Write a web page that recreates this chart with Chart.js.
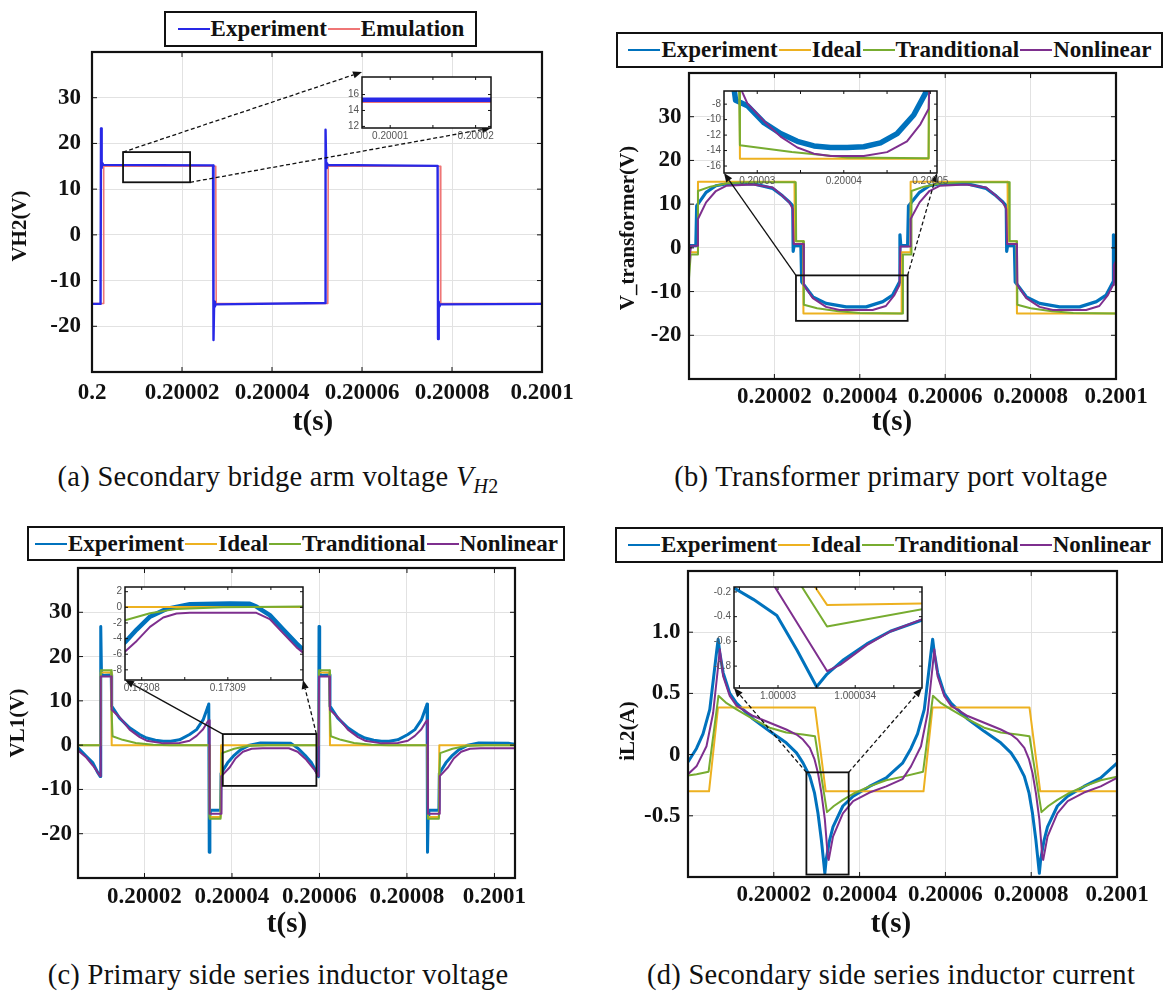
<!DOCTYPE html>
<html>
<head>
<meta charset="utf-8">
<script src="https://cdn.jsdelivr.net/npm/chart.js@4.4.1/dist/chart.umd.min.js"></script>
<style>
html,body{margin:0;padding:0;background:#fff;}
#page{position:relative;width:1164px;height:991px;overflow:hidden;background:#fff;}
canvas{position:absolute;display:block;}
.lg{position:absolute;box-sizing:border-box;border:2.5px solid #111;background:#fff;display:flex;align-items:center;justify-content:center;font-family:"Liberation Serif",serif;font-weight:bold;font-size:23px;color:#111;white-space:nowrap;}
.lg .sw{display:inline-block;width:32px;height:0;border-top-style:solid;border-top-width:2.5px;margin:0 1px 0 1px;}
.cap{position:absolute;font-family:"Liberation Serif",serif;font-size:28.5px;letter-spacing:0.3px;color:#111;white-space:nowrap;transform:translate(-50%,-50%);}
.cap sub{font-size:0.7em;line-height:0;}
</style>
</head>
<body>
<div id="page"></div>
<script>
// ---------------- colours / labels ----------------
const C_EXP = '#0072BD', C_IDE = '#EDB120', C_TRA = '#77AC30', C_NON = '#7E2F8E';
const C_A_EXP = '#2828e6', C_A_EMU = '#ef7676';
const LBL_A = ['Experiment', 'Emulation'];
const LBL_4 = ['Experiment', 'Ideal', 'Tranditional', 'Nonlinear'];

// ---------------- tick labels ----------------
const X_TICKS_AB = [0, 20, 40, 60, 80, 100];
const X_LABELS_A = ['0.2', '0.20002', '0.20004', '0.20006', '0.20008', '0.2001'];
const X_LABELS_B = ['', '0.20002', '0.20004', '0.20006', '0.20008', '0.2001'];
const X_TICKS_C = [20, 40, 60, 80, 100];
const X_LABELS_C = ['0.20002', '0.20004', '0.20006', '0.20008', '0.2001'];
const Y_TICKS_V = [-20, -10, 0, 10, 20, 30];
const Y_LABELS_V = ['-20', '-10', '0', '10', '20', '30'];
const Y_TICKS_I = [-0.5, 0, 0.5, 1.0];
const Y_LABELS_I = ['-0.5', '0', '0.5', '1.0'];

// inset ticks
const AI_X_TICKS = [10, 15, 20], AI_X_LABELS = ['0.20001', '', '0.20002'];
const AI_Y_TICKS = [12, 14, 16], AI_Y_LABELS = ['12', '14', '16'];
const BI_X_TICKS = [30, 35, 40, 45, 50], BI_X_LABELS = ['0.20003', '', '0.20004', '', '0.20005'];
const BI_Y_TICKS = [-16, -14, -12, -10, -8], BI_Y_LABELS = ['-16', '-14', '-12', '-10', '-8'];
const CI_X_TICKS = [80, 85, 90, 95], CI_X_LABELS = ['0.17308', '', '0.17309', ''];
const CI_Y_TICKS = [-8, -6, -4, -2, 0, 2], CI_Y_LABELS = ['-8', '-6', '-4', '-2', '0', '2'];
const DI_X_TICKS = [31, 32, 33, 34, 35], DI_X_LABELS = ['', '1.00003', '', '1.000034', ''];
const DI_Y_TICKS = [-0.8, -0.6, -0.4, -0.2], DI_Y_LABELS = ['-0.8', '-0.6', '-0.4', '-0.2'];

// ---------------- data (time in microseconds after 0.2 s) ----------------
// (a) secondary bridge arm voltage
const A_T_EXP = [0,1.9,2.0,2.15,2.3,2.5,26.9,27.0,27.15,27.3,27.5,51.8,51.9,52.05,52.2,52.4,76.8,76.9,77.05,77.2,77.4,100];
const A_V_EXP = [-15.1,-15.1,23.3,14.6,15.7,15.3,15.2,-23.0,-14.6,-15.7,-15.2,-14.9,23.0,14.6,15.7,15.3,15.1,-22.8,-14.6,-15.7,-15.2,-15.1];
const A_T_EMU = [0,2.5,2.6,27.5,27.6,52.4,52.5,77.4,77.5,100];
const A_V_EMU = [-15,-15,15,15,-15,-15,15,15,-15,-15];
const AI_T_EXP = [5, 23.5], AI_V_EXP = [15.35, 15.35];
const AI_T_EMU = [5, 23.5], AI_V_EMU = [15.05, 15.05];

// (b) transformer primary port voltage
const B_T_EXP = [0,1.6,1.8,4.0,6.3,8.6,15.0,19.6,21.9,23.5,24.3,24.4,24.6,26.2,26.4,29.0,32.1,36.8,41.5,45.4,47.7,49.3,49.4,49.6,51.2,51.4,54.0,56.3,58.6,65.0,69.6,71.9,73.5,74.3,74.4,74.6,76.2,76.4,79.0,82.1,86.8,91.5,95.4,97.7,99.3,99.4,99.6,100];
const B_V_EXP = [0.5,0.5,9.6,12.7,14.2,14.6,14.7,13.6,11.9,10.5,9.6,-0.8,0.5,0.5,-7.8,-11.2,-12.7,-13.5,-13.5,-12.3,-10.8,-7.8,3.0,0.5,0.5,9.6,12.7,14.2,14.6,14.7,13.6,11.9,10.5,9.6,-0.8,0.5,0.5,-7.8,-11.2,-12.7,-13.5,-13.5,-12.3,-10.8,-7.8,3.0,0.5,0.5];
const B_T_IDE = [0,2.0,2.1,24.7,24.8,26.7,26.8,49.7,49.8,51.8,51.9,74.6,74.7,76.7,76.8,100];
const B_V_IDE = [-1,-1,15.1,15.1,1.5,1.5,-15,-15,-1,-1,15.1,15.1,1.5,1.5,-15,-15];
const B_T_TRA = [0,0.4,2.0,2.1,5,9,14,25.0,25.1,26.8,26.9,30,35,40,50.0,50.1,52.0,52.1,55,59,64,75.0,75.1,76.8,76.9,80,85,90,100];
const B_V_TRA = [-7,-1.5,-1.5,13.0,14.0,14.8,15.0,15.0,1.5,1.5,-13.0,-13.8,-14.5,-14.9,-15.0,-1.5,-1.5,13.0,14.0,14.8,15.0,15.0,1.5,1.5,-13.0,-13.8,-14.5,-14.9,-15.0];
const B_T_NON = [0,0.3,0.5,2.0,2.1,4.0,6.3,8.7,14.9,19.6,21.9,23.5,24.3,24.5,26.8,26.9,29.0,32.1,35.2,43.0,46.1,48.1,49.3,49.5,51.8,51.9,54.0,56.3,58.7,64.9,69.6,71.9,73.5,74.3,74.5,76.8,76.9,79.0,82.1,85.2,93.0,96.1,98.1,99.3,99.5,100];
const B_V_NON = [-4.0,-1,0.5,0.5,6.6,10.4,13.0,14.2,14.5,13.8,11.9,10.4,8.9,0.9,0.9,-8.5,-11.5,-13.5,-14.2,-14.2,-13.3,-10.8,-8.5,0.3,0.3,6.6,10.4,13.0,14.2,14.5,13.8,11.9,10.4,8.9,0.9,0.9,-8.5,-11.5,-13.5,-14.2,-14.2,-13.3,-10.8,-8.5,-4,-3];
const BI_T_EXP = [27.2,27.5,28.86,30.78,32.7,34.63,36.55,38.47,40.39,42.31,44.24,46.16,48.08,49.43,49.7];
const BI_V_EXP = [-5,-7.5,-8.2,-10.4,-11.8,-12.8,-13.4,-13.6,-13.6,-13.5,-13.0,-11.8,-9.4,-6.6,-5];
const BI_T_IDE = [27.95,28.0,49.8,49.85], BI_V_IDE = [-5,-15.05,-15.05,-5];
const BI_T_TRA = [27.9,28.0,34,40.4,49.8,49.85], BI_V_TRA = [-5,-13.3,-14.2,-14.9,-15.0,-5];
const BI_T_NON = [27.9,28.3,28.86,30.78,32.7,34.63,36.55,38.47,42.31,45.0,47.3,48.85,49.81,49.9];
const BI_V_NON = [-5,-6.5,-7.9,-10.2,-12.2,-13.6,-14.4,-14.7,-14.7,-14.2,-12.8,-10.6,-8.6,-5];

// (c) primary side series inductor voltage
const C_T_EXP = [4.8,5.2,6.7,8.2,9.36,9.9,10.0,10.15,10.3,12.4,12.5,14.3,16.6,18.9,20.5,22.5,24.3,26.0,28.0,30.3,31.9,33.4,34.5,34.7,34.8,34.95,35.1,37.4,37.5,39.0,40.5,42.0,44.0,46.5,53.5,55.2,56.7,58.2,59.3,59.8,59.9,60.05,60.2,62.3,62.4,64.2,66.5,68.8,70.4,72.4,74.2,75.9,77.9,80.2,81.8,83.3,84.4,84.6,84.7,84.85,85.0,87.3,87.4,88.9,90.4,91.9,93.9,96.4,103.4,104.7];
const C_V_EXP = [-0.6,-1.0,-2.5,-4.0,-6.3,-7.1,26.8,17.0,15.7,15.9,8.8,6.1,3.9,2.4,1.6,1.1,0.9,0.9,1.2,2.4,3.5,5.7,8.7,9.3,-24.2,-16.0,-14.7,-14.7,-6.4,-4.0,-2.3,-1.0,0.0,0.5,0.4,-0.8,-2.3,-4.0,-6.0,-7.1,26.8,17.0,15.7,15.9,8.8,6.1,3.9,2.4,1.6,1.1,0.9,0.9,1.2,2.4,3.5,5.7,8.7,9.3,-24.2,-16.0,-14.7,-14.7,-6.4,-4.0,-2.3,-1.0,0.0,0.5,0.4,0.2];
const C_T_IDE = [4.8,9.9,10.0,12.4,12.5,34.8,34.9,37.4,37.5,59.8,59.9,62.3,62.4,84.7,84.8,87.3,87.4,104.7];
const C_V_IDE = [0,0,16.4,16.4,0,0,-16.2,-16.2,0,0,16.4,16.4,0,0,-16.2,-16.2,0,0];
const C_T_TRA = [4.8,9.9,10.0,12.4,12.5,12.7,15.0,18.0,22.0,26.0,34.8,34.9,37.4,37.5,37.7,40.5,43.5,48.0,59.8,59.9,62.3,62.4,62.6,64.9,67.9,71.9,75.9,84.7,84.8,87.3,87.4,87.6,90.4,93.4,97.9,104.7];
const C_V_TRA = [0,0,16.9,16.9,7.0,2.0,1.2,0.5,0.1,0,0,-16.6,-16.6,-7.0,-1.8,-0.8,-0.2,0,0,16.9,16.9,7.0,2.0,1.2,0.5,0.1,0,0,-16.6,-16.6,-7.0,-1.8,-0.8,-0.2,0,0];
const C_T_NON = [4.8,6.7,8.2,9.9,10.0,12.4,12.5,14.3,16.6,18.9,20.5,24.3,28.0,30.3,31.9,33.4,34.5,34.8,34.9,37.5,37.6,39.5,40.8,42.5,44.5,47.0,53.0,55.0,57.0,58.8,59.8,59.9,62.3,62.4,64.2,66.5,68.8,70.4,74.2,77.9,80.2,81.8,83.3,84.4,84.7,84.8,87.4,87.5,89.4,90.7,92.4,94.4,96.9,104.7];
const C_V_NON = [-1.2,-2.8,-4.6,-7.0,15.5,15.5,8.0,6.3,3.5,1.8,1.0,0.4,0.5,1.0,2.1,3.6,5.4,5.6,-15.5,-15.5,-7.0,-5.0,-3.0,-1.5,-0.8,-0.7,-0.7,-1.5,-3.3,-5.5,-7.0,15.5,15.5,8.0,6.3,3.5,1.8,1.0,0.4,0.5,1.0,2.1,3.6,5.4,5.6,-15.5,-15.5,-7.0,-5.0,-3.0,-1.5,-0.8,-0.7,-0.7];
// inset (c): microseconds after 0.173 s
const CI_T_EXP = [77,78.07,79.42,80.96,82.89,85.6,90.23,92.55,93.32,94.87,96.41,97.96,98.73,99.5];
const CI_V_EXP = [-5.5,-4.46,-2.85,-1.2,-0.2,0.4,0.5,0.45,0.1,-1.0,-2.8,-4.6,-5.4,-5.8];
const CI_T_IDE = [77,99.5], CI_V_IDE = [0.05,0.05];
const CI_T_TRA = [77,78.07,80.96,84.05,89.46,99.5], CI_V_TRA = [-2.0,-1.65,-0.76,-0.2,0,0.1];
const CI_T_NON = [77,78.07,79.42,80.96,82.5,84.05,85.6,93.32,94.87,96.41,97.96,98.73,99.5];
const CI_V_NON = [-6.5,-5.66,-4.3,-2.5,-1.3,-0.8,-0.7,-0.7,-1.5,-3.3,-5.1,-5.8,-6.2];

// (d) secondary side series inductor current
const D_T_EXP = [0,1.98,3.5,5.08,5.86,6.64,7.03,7.41,8.19,9.74,11.3,15.2,19.05,22.9,25.3,26.8,28.4,29.5,30.3,31.1,31.9,32.2,33.0,33.8,36.1,38.5,42.3,46.2,50.0,51.98,53.5,55.08,55.86,56.64,57.03,57.41,58.19,59.74,61.3,65.2,69.05,72.9,75.3,76.8,78.4,79.5,80.3,81.1,81.9,82.2,83.0,83.8,86.1,88.5,92.3,96.2,100];
const D_V_EXP = [-0.06,0.05,0.17,0.37,0.6,0.833,0.943,0.833,0.67,0.5,0.42,0.29,0.19,0.096,0.014,-0.068,-0.178,-0.315,-0.48,-0.70,-0.97,-0.86,-0.70,-0.59,-0.42,-0.34,-0.26,-0.19,-0.07,0.05,0.17,0.37,0.6,0.833,0.943,0.833,0.67,0.5,0.42,0.29,0.19,0.096,0.014,-0.068,-0.178,-0.315,-0.48,-0.70,-0.97,-0.86,-0.70,-0.59,-0.42,-0.34,-0.26,-0.19,-0.07];
const D_T_IDE = [0,4.9,7.0,29.6,32.1,54.9,57.0,79.6,82.1,100];
const D_V_IDE = [-0.3,-0.3,0.385,0.385,-0.3,-0.3,0.385,0.385,-0.3,-0.3];
const D_T_TRA = [0,2,4.8,7.1,9,11.3,15.2,19.05,22.9,26.8,29.6,32.4,34,36.1,38.5,42.3,46.2,50.1,54.8,57.1,59,61.3,65.2,69.05,72.9,76.8,79.6,82.4,84,86.1,88.5,92.3,96.2,100];
const D_V_TRA = [-0.17,-0.16,-0.14,0.48,0.42,0.37,0.29,0.22,0.18,0.165,0.15,-0.47,-0.42,-0.37,-0.32,-0.26,-0.21,-0.18,-0.14,0.48,0.42,0.37,0.29,0.22,0.18,0.165,0.15,-0.47,-0.42,-0.37,-0.32,-0.26,-0.21,-0.18];
const D_T_NON = [0,1.98,4.31,5.86,7.03,7.41,8.19,9.74,11.3,15.2,19.05,22.9,25.3,26.8,28.4,29.5,30.3,31.1,31.9,32.6,32.8,33.8,36.1,38.5,42.3,46.2,50.0,51.98,54.31,55.86,57.03,57.41,58.19,59.74,61.3,65.2,69.05,72.9,75.3,76.8,78.4,79.5,80.3,81.1,81.9,82.6,82.8,83.8,86.1,88.5,92.3,96.2,100];
const D_V_NON = [-0.16,-0.096,0.068,0.34,0.724,0.86,0.64,0.48,0.40,0.315,0.26,0.205,0.164,0.123,0.055,-0.04,-0.15,-0.315,-0.53,-0.84,-0.86,-0.67,-0.48,-0.38,-0.31,-0.26,-0.20,-0.096,0.068,0.34,0.724,0.86,0.64,0.48,0.40,0.315,0.26,0.205,0.164,0.123,0.055,-0.04,-0.15,-0.315,-0.53,-0.84,-0.86,-0.67,-0.48,-0.38,-0.31,-0.26,-0.19];
// inset (d): microseconds after 1.0 s
const DI_T_EXP = [30.6,31.36,31.97,32.49,33.0,33.27,33.7,34.3,34.91,35.9];
const DI_V_EXP = [-0.12,-0.26,-0.39,-0.67,-0.967,-0.864,-0.748,-0.62,-0.518,-0.41];
const DI_T_IDE = [32.83,33.27,35.9], DI_V_IDE = [-0.1,-0.305,-0.292];
const DI_T_TRA = [32.5,33.27,35.9], DI_V_TRA = [-0.1,-0.48,-0.33];
const DI_T_NON = [31.8,33.27,33.61,34.3,34.91,35.9], DI_V_NON = [-0.1,-0.84,-0.79,-0.63,-0.52,-0.40];

// ---------------- drawing helpers ----------------
const SERIF = '"Liberation Serif", "Times New Roman", serif';
const SANS = '"Liberation Sans", Arial, sans-serif';
const page = document.getElementById('page');

function addCanvas(id, left, top, w, h, z) {
  const c = document.createElement('canvas');
  c.id = id; c.width = w; c.height = h;
  c.style.left = left + 'px'; c.style.top = top + 'px';
  c.style.width = w + 'px'; c.style.height = h + 'px';
  c.style.zIndex = z;
  page.appendChild(c);
  return c;
}

function drawArrow(ctx, sx, sy, ex, ey, dash) {
  const a = Math.atan2(ey - sy, ex - sx);
  const hl = 9, hw = 3.6;
  const bx = ex - hl * Math.cos(a), by = ey - hl * Math.sin(a);
  ctx.save();
  ctx.strokeStyle = '#111'; ctx.fillStyle = '#111'; ctx.lineWidth = 1.3;
  ctx.setLineDash(dash ? [4, 2.5] : []);
  ctx.beginPath(); ctx.moveTo(sx, sy); ctx.lineTo(bx, by); ctx.stroke();
  ctx.setLineDash([]);
  ctx.beginPath(); ctx.moveTo(ex, ey);
  ctx.lineTo(bx + hw * Math.sin(a), by - hw * Math.cos(a));
  ctx.lineTo(bx - hw * Math.sin(a), by + hw * Math.cos(a));
  ctx.closePath(); ctx.fill();
  ctx.restore();
}

const framePlugin = {
  id: 'frame',
  beforeDraw(chart, args, o) {
    if (o.bg) {
      const a = chart.chartArea, c = chart.ctx;
      c.save(); c.fillStyle = o.bg; c.fillRect(a.left, a.top, a.width, a.height); c.restore();
    }
  },
  afterDatasetsDraw(chart, args, o) {
    const ctx = chart.ctx, a = chart.chartArea, x = chart.scales.x, y = chart.scales.y;
    ctx.save();
    ctx.strokeStyle = '#111'; ctx.lineWidth = o.tickW || 1;
    const tl = o.tickLen || 5;
    ctx.beginPath();
    x.ticks.forEach(t => {
      const p = x.getPixelForValue(t.value);
      ctx.moveTo(p, a.bottom); ctx.lineTo(p, a.bottom - tl);
      ctx.moveTo(p, a.top); ctx.lineTo(p, a.top + tl);
    });
    y.ticks.forEach(t => {
      const p = y.getPixelForValue(t.value);
      ctx.moveTo(a.left, p); ctx.lineTo(a.left + tl, p);
      ctx.moveTo(a.right, p); ctx.lineTo(a.right - tl, p);
    });
    ctx.stroke();
    if (o.zoom) {
      const z = o.zoom;
      const x1 = x.getPixelForValue(z.x0), x2 = x.getPixelForValue(z.x1);
      const y1 = y.getPixelForValue(z.y1), y2 = y.getPixelForValue(z.y0);
      ctx.lineWidth = 1.8; ctx.strokeRect(x1, y1, x2 - x1, y2 - y1);
    }
    if (o.arrows) {
      o.arrows.forEach(ar => {
        drawArrow(ctx, x.getPixelForValue(ar.fx), y.getPixelForValue(ar.fy), ar.tx - o.ox, ar.ty - o.oy, ar.dash);
      });
    }
    ctx.lineWidth = o.boxW || 2;
    ctx.strokeRect(a.left, a.top, a.width, a.height);
    ctx.fillStyle = '#111';
    ctx.textAlign = 'center'; ctx.textBaseline = 'middle';
    if (o.xTitle) {
      ctx.font = 'bold 29px ' + SERIF;
      ctx.fillText(o.xTitle.text, o.xTitle.x, o.xTitle.y);
    }
    if (o.yTitle) {
      ctx.save();
      ctx.translate(o.yTitle.x, o.yTitle.y); ctx.rotate(-Math.PI / 2);
      ctx.font = 'bold 21px ' + SERIF;
      ctx.fillText(o.yTitle.text, 0, 0);
      ctx.restore();
    }
    ctx.restore();
  }
};

function makeChart(c) {
  const inset = !!c.inset;
  const tickFont = inset ? {family: SANS, size: 10} : {family: SERIF, size: 23, weight: 'bold'};
  const tickColor = inset ? '#555' : '#111';
  const n = c.series.length;
  const datasets = c.series.map((s, i) => ({
    label: s.label,
    data: s.t.map((t, k) => ({x: t, y: s.v[k]})),
    borderColor: s.color, backgroundColor: s.color, borderWidth: s.w,
    pointRadius: 0, pointHoverRadius: 0, fill: false, tension: 0,
    borderJoinStyle: 'round', order: n - i
  }));
  const gridOpt = {display: !inset, color: '#e2e2e2', lineWidth: 1, drawTicks: false};
  return new Chart(c.canvas, {
    type: 'line',
    data: {datasets},
    options: {
      responsive: false, animation: false, devicePixelRatio: 1, events: [],
      layout: {autoPadding: false, padding: {left: 0, top: c.box.T, right: c.W - c.box.R, bottom: 0}},
      plugins: {legend: {display: false}, tooltip: {enabled: false}, frame: c.frame},
      scales: {
        x: {
          type: 'linear', min: c.xMin, max: c.xMax,
          afterBuildTicks: sc => { sc.ticks = c.xTicks.map(v => ({value: v})); },
          afterFit: sc => { sc.height = c.H - c.box.B; },
          ticks: {autoSkip: false, maxRotation: 0, minRotation: 0, padding: c.xTickPad, font: tickFont, color: tickColor,
                  callback: (v, i) => c.xLabels[i]},
          grid: gridOpt, border: {display: false}
        },
        y: {
          type: 'linear', min: c.yMin, max: c.yMax,
          afterBuildTicks: sc => { sc.ticks = c.yTicks.map(v => ({value: v})); },
          afterFit: sc => { sc.width = c.box.L; },
          ticks: {autoSkip: false, padding: c.yTickPad, font: tickFont, color: tickColor,
                  callback: (v, i) => c.yLabels[i]},
          grid: gridOpt, border: {display: false}
        }
      }
    },
    plugins: [framePlugin]
  });
}

function mainPanel(p) {
  const cv = addCanvas(p.id, p.left, p.top, p.W, p.H, 1);
  makeChart({
    canvas: cv, W: p.W, H: p.H, box: p.box, series: p.series,
    xMin: p.xMin, xMax: p.xMax, yMin: p.yMin, yMax: p.yMax,
    xTicks: p.xTicks, xLabels: p.xLabels, yTicks: p.yTicks, yLabels: p.yLabels,
    xTickPad: p.xTickPad, yTickPad: p.yTickPad,
    frame: {tickLen: 5, boxW: 2.2, zoom: p.zoom, arrows: p.arrows, ox: p.left, oy: p.top,
            xTitle: {text: 't(s)', x: p.xt[0], y: p.xt[1]}, yTitle: {text: p.yTitle, x: p.yt[0], y: p.yt[1]}}
  });
}

function insetPanel(p) {
  const LW = 30, TP = 4, RP = 16, BH = 18;
  const w = p.R - p.L, h = p.B - p.T;
  const W = w + LW + RP, H = h + TP + BH;
  const cv = addCanvas(p.id, p.L - LW, p.T - TP, W, H, 2);
  makeChart({
    canvas: cv, inset: true, W: W, H: H, box: {L: LW, T: TP, R: LW + w, B: TP + h}, series: p.series,
    xMin: p.xMin, xMax: p.xMax, yMin: p.yMin, yMax: p.yMax,
    xTicks: p.xTicks, xLabels: p.xLabels, yTicks: p.yTicks, yLabels: p.yLabels,
    xTickPad: 2, yTickPad: 3,
    frame: {bg: '#ffffff', tickLen: 3, boxW: 1.5}
  });
}

function legend(left, top, w, h, labels, colors) {
  const d = document.createElement('div');
  d.className = 'lg';
  d.style.left = left + 'px'; d.style.top = top + 'px';
  d.style.width = w + 'px'; d.style.height = h + 'px';
  d.style.zIndex = 3;
  labels.forEach((l, i) => {
    const s = document.createElement('span'); s.className = 'sw'; s.style.borderTopColor = colors[i];
    d.appendChild(s);
    const t = document.createElement('span'); t.textContent = l;
    d.appendChild(t);
  });
  page.appendChild(d);
}

function caption(x, y, html) {
  const d = document.createElement('div');
  d.className = 'cap'; d.style.left = x + 'px'; d.style.top = y + 'px';
  d.innerHTML = html;
  page.appendChild(d);
}

const S = (label, t, v, color, w) => ({label, t, v, color, w});

// ---------------- panel (a) ----------------
mainPanel({
  id: 'ca', left: 0, top: 0, W: 582, H: 440, box: {L: 92, T: 52, R: 542, B: 372},
  series: [S(LBL_A[1], A_T_EMU, A_V_EMU, C_A_EMU, 1.6), S(LBL_A[0], A_T_EXP, A_V_EXP, C_A_EXP, 2.4)],
  xMin: 0, xMax: 100, yMin: -30, yMax: 40,
  xTicks: X_TICKS_AB, xLabels: X_LABELS_A, yTicks: Y_TICKS_V, yLabels: Y_LABELS_V,
  xTickPad: 7, yTickPad: 11, xt: [313, 423], yt: [21, 226], yTitle: 'VH2(V)',
  zoom: {x0: 6.9, x1: 21.8, y0: 11.5, y1: 18.1},
  arrows: [{fx: 6.9, fy: 18.1, tx: 362, ty: 72, dash: true}, {fx: 21.8, fy: 11.5, tx: 491, ty: 128, dash: true}]
});
insetPanel({
  id: 'ia', L: 362, T: 72, R: 491, B: 128,
  series: [S(LBL_A[1], AI_T_EMU, AI_V_EMU, C_A_EMU, 1.6), S(LBL_A[0], AI_T_EXP, AI_V_EXP, C_A_EXP, 4.5)],
  xMin: 6.7, xMax: 21.8, yMin: 11.8, yMax: 18.2,
  xTicks: AI_X_TICKS, xLabels: AI_X_LABELS, yTicks: AI_Y_TICKS, yLabels: AI_Y_LABELS
});
legend(164, 11, 313, 36, LBL_A, [C_A_EXP, C_A_EMU]);

// ---------------- panel (b) ----------------
mainPanel({
  id: 'cb', left: 582, top: 0, W: 582, H: 440, box: {L: 107, T: 73, R: 534, B: 379},
  series: [S(LBL_4[0], B_T_EXP, B_V_EXP, C_EXP, 3.2), S(LBL_4[1], B_T_IDE, B_V_IDE, C_IDE, 2),
           S(LBL_4[2], B_T_TRA, B_V_TRA, C_TRA, 2), S(LBL_4[3], B_T_NON, B_V_NON, C_NON, 2)],
  xMin: 0, xMax: 100, yMin: -30, yMax: 40,
  xTicks: X_TICKS_AB, xLabels: X_LABELS_B, yTicks: Y_TICKS_V, yLabels: Y_LABELS_V,
  xTickPad: 4, yTickPad: 7.5, xt: [310, 423], yt: [47, 228], yTitle: 'V_transformer(V)',
  zoom: {x0: 25.05, x1: 51.2, y0: -16.7, y1: -6.3},
  arrows: [{fx: 25.05, fy: -6.3, tx: 724, ty: 173, dash: false}, {fx: 51.2, fy: -6.3, tx: 937, ty: 173, dash: true}]
});
insetPanel({
  id: 'ib', L: 724, T: 86, R: 937, B: 173,
  series: [S(LBL_4[0], BI_T_EXP, BI_V_EXP, C_EXP, 5.5), S(LBL_4[1], BI_T_IDE, BI_V_IDE, C_IDE, 2),
           S(LBL_4[2], BI_T_TRA, BI_V_TRA, C_TRA, 2), S(LBL_4[3], BI_T_NON, BI_V_NON, C_NON, 2)],
  xMin: 26.16, xMax: 50.77, yMin: -16.9, yMax: -6.3,
  xTicks: BI_X_TICKS, xLabels: BI_X_LABELS, yTicks: BI_Y_TICKS, yLabels: BI_Y_LABELS
});
legend(616, 32, 547, 36, LBL_4, [C_EXP, C_IDE, C_TRA, C_NON]);

// ---------------- panel (c) ----------------
mainPanel({
  id: 'cc', left: 0, top: 500, W: 582, H: 442, box: {L: 78, T: 68, R: 515, B: 378},
  series: [S(LBL_4[0], C_T_EXP, C_V_EXP, C_EXP, 3), S(LBL_4[1], C_T_IDE, C_V_IDE, C_IDE, 2),
           S(LBL_4[2], C_T_TRA, C_V_TRA, C_TRA, 2), S(LBL_4[3], C_T_NON, C_V_NON, C_NON, 2)],
  xMin: 4.8, xMax: 104.7, yMin: -30, yMax: 40,
  xTicks: X_TICKS_C, xLabels: X_LABELS_C, yTicks: Y_TICKS_V, yLabels: Y_LABELS_V,
  xTickPad: 5, yTickPad: 6, xt: [287, 425], yt: [19, 223], yTitle: 'VL1(V)',
  zoom: {x0: 37.9, x1: 59.3, y0: -9.2, y1: 2.5},
  arrows: [{fx: 37.9, fy: 2.5, tx: 125, ty: 680, dash: false}, {fx: 59.3, fy: 2.5, tx: 303, ty: 680, dash: true}]
});
insetPanel({
  id: 'ic', L: 125, T: 582, R: 303, B: 680,
  series: [S(LBL_4[0], CI_T_EXP, CI_V_EXP, C_EXP, 4.5), S(LBL_4[1], CI_T_IDE, CI_V_IDE, C_IDE, 2),
           S(LBL_4[2], CI_T_TRA, CI_V_TRA, C_TRA, 2), S(LBL_4[3], CI_T_NON, CI_V_NON, C_NON, 2)],
  xMin: 78.06, xMax: 98.73, yMin: -9.3, yMax: 2.6,
  xTicks: CI_X_TICKS, xLabels: CI_X_LABELS, yTicks: CI_Y_TICKS, yLabels: CI_Y_LABELS
});
legend(27, 526, 538, 35, LBL_4, [C_EXP, C_IDE, C_TRA, C_NON]);

// ---------------- panel (d) ----------------
mainPanel({
  id: 'cd', left: 582, top: 500, W: 582, H: 442, box: {L: 106, T: 71, R: 535, B: 377},
  series: [S(LBL_4[0], D_T_EXP, D_V_EXP, C_EXP, 3), S(LBL_4[1], D_T_IDE, D_V_IDE, C_IDE, 2),
           S(LBL_4[2], D_T_TRA, D_V_TRA, C_TRA, 2), S(LBL_4[3], D_T_NON, D_V_NON, C_NON, 2)],
  xMin: 0, xMax: 100, yMin: -1.0, yMax: 1.5,
  xTicks: X_TICKS_AB, xLabels: X_LABELS_B, yTicks: Y_TICKS_I, yLabels: Y_LABELS_I,
  xTickPad: 4, yTickPad: 7.5, xt: [309, 425], yt: [47, 231], yTitle: 'iL2(A)',
  zoom: {x0: 27.6, x1: 37.45, y0: -0.98, y1: -0.145},
  arrows: [{fx: 27.6, fy: -0.145, tx: 734, ty: 688, dash: true}, {fx: 37.45, fy: -0.145, tx: 922, ty: 688, dash: true}]
});
insetPanel({
  id: 'id', L: 734, T: 582, R: 922, B: 688,
  series: [S(LBL_4[0], DI_T_EXP, DI_V_EXP, C_EXP, 3), S(LBL_4[1], DI_T_IDE, DI_V_IDE, C_IDE, 2),
           S(LBL_4[2], DI_T_TRA, DI_V_TRA, C_TRA, 2), S(LBL_4[3], DI_T_NON, DI_V_NON, C_NON, 2)],
  xMin: 30.86, xMax: 35.73, yMin: -0.977, yMax: -0.16,
  xTicks: DI_X_TICKS, xLabels: DI_X_LABELS, yTicks: DI_Y_TICKS, yLabels: DI_Y_LABELS
});
legend(615, 527, 548, 36, LBL_4, [C_EXP, C_IDE, C_TRA, C_NON]);

// ---------------- captions ----------------
caption(278, 477, '(a) Secondary bridge arm voltage <i>V</i><sub><i>H</i>2</sub>');
caption(891, 477, '(b) Transformer primary port voltage');
caption(278, 975, '(c) Primary side series inductor voltage');
caption(891, 975, '(d) Secondary side series inductor current');
</script>
</body>
</html>
